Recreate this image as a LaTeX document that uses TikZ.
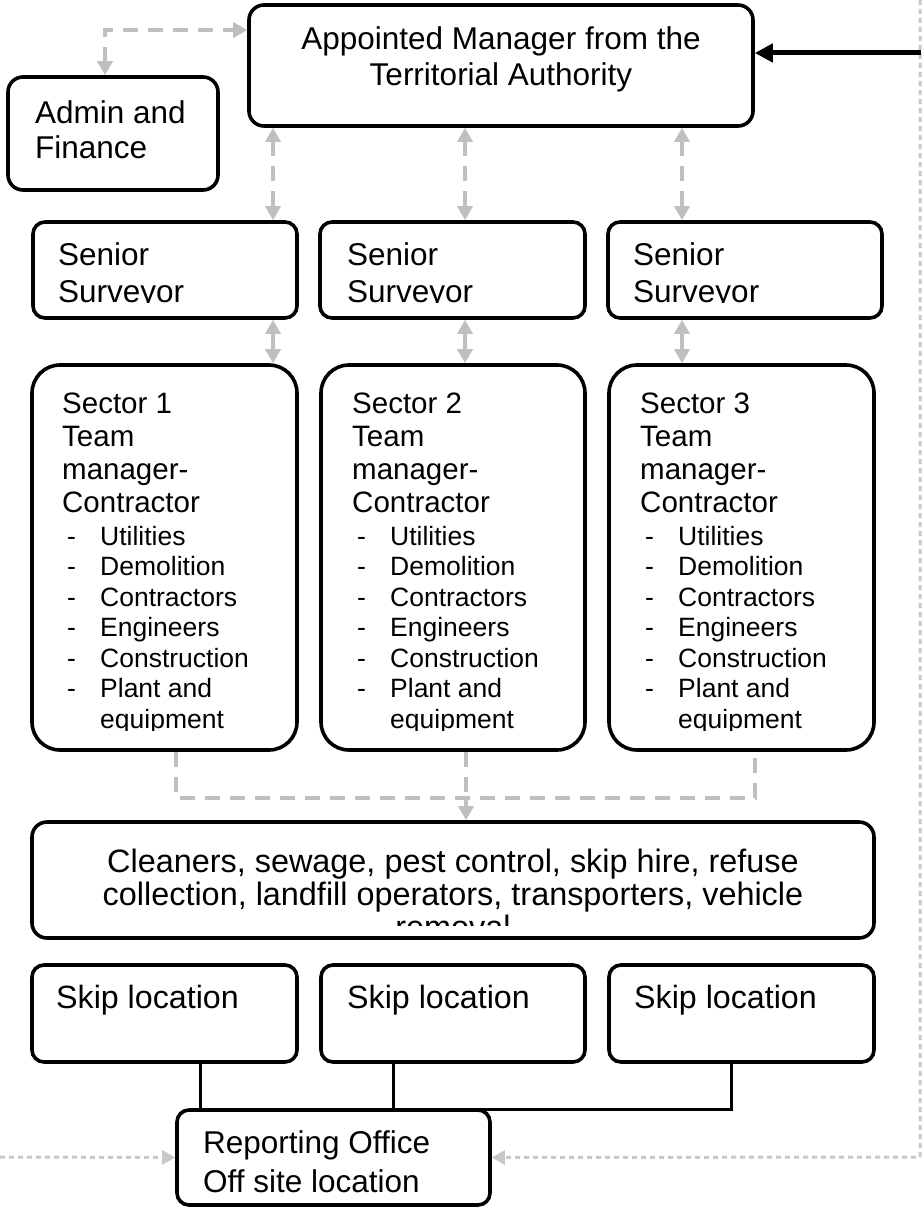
\documentclass[tikz,border=0pt]{standalone}
\usepackage{fontspec}
\setmainfont{Liberation Sans}
\usetikzlibrary{arrows.meta,calc}
\definecolor{lg}{HTML}{BFBFBF}
\definecolor{dg}{HTML}{C8C8C8}
\newcommand\mkbox[6]{\node[box=#6, minimum width={(#4-#2)*1pt}, minimum height={(#5-#3)*1pt}] (#1) at ({(#2+#4)/2},{(#3+#5)/2}) {};}
\begin{document}
\begin{tikzpicture}[x=1pt,y=-1pt,
  box/.style={draw=black,line width=3.6pt,rounded corners=#1,inner sep=0pt},
  box/.default=14pt,
  txt/.style={inner sep=0pt,anchor=base west,font=\fontsize{31.5}{36}\selectfont},
  ctxt/.style={txt,anchor=base},
  bigc/.style={inner sep=0pt,anchor=base,font=\fontsize{32.4}{36}\selectfont},
  skt/.style={inner sep=0pt,anchor=base west,font=\fontsize{32.2}{36}\selectfont},
  hd/.style={inner sep=0pt,anchor=base west,font=\fontsize{29.5}{33}\selectfont},
  li/.style={inner sep=0pt,anchor=base west,font=\fontsize{26.5}{30}\selectfont},
  gtip/.tip={Triangle[length=14pt,width=15pt]},
  gdash/.style={draw=lg,line width=4pt,dash pattern=on 15pt off 10pt},
  gsolid/.style={draw=lg,line width=4pt},
  dots/.style={draw=dg,line width=3pt,dash pattern=on 5pt off 4pt},
  blk/.style={draw=black,line width=3pt}]
\useasboundingbox (0,0) rectangle (921,1207);

% boxes
\mkbox{top}{249}{5}{753}{126}{15pt}
\mkbox{admin}{8}{77}{218}{190}{15pt}
\mkbox{sen1}{33}{222}{297}{318}{12pt}
\mkbox{sen2}{320}{222}{585}{318}{12pt}
\mkbox{sen3}{608}{222}{882}{318}{12pt}
\mkbox{sec1}{32}{365}{297}{750}{28pt}
\mkbox{sec2}{321}{365}{585}{750}{28pt}
\mkbox{sec3}{609}{365}{874}{750}{28pt}
\mkbox{cl}{32}{822}{874}{938}{15pt}
\mkbox{sk1}{32}{965}{297}{1062}{12pt}
\mkbox{sk2}{321}{965}{585}{1062}{12pt}
\mkbox{sk3}{609}{965}{874}{1062}{12pt}
\mkbox{rep}{177}{1110}{490}{1205}{12pt}

% texts
\node[ctxt] (topa) at (501,50) {Appointed Manager from the};
\node[ctxt] (topb) at (501,85) {Territorial Authority};
\node[txt] (adma) at (35,123) {Admin and};
\node[txt] (admb) at (35,158) {Finance};
\foreach \i/\x/\xa/\xb in {1/58/33/297,2/347/320/585,3/633/608/882}{
  \begin{scope}
  \clip (\xa,222) rectangle (\xb,302.5);
  \node[txt] (sen\i a) at (\x,265) {Senior};
  \node[txt] (sen\i b) at (\x,302) {Surveyor};
  \end{scope}
}
\foreach \i/\x/\xa/\xb in {1/62/32/297,2/352/321/585,3/640/609/874}{
  \begin{scope}
  \clip (\xa,367) rectangle (\xb,730);
  \node[hd] (sec\i h1) at (\x,413) {Sector \i};
  \node[hd] (sec\i h2) at (\x,446) {Team};
  \node[hd] (sec\i h3) at (\x,479) {manager-};
  \node[hd] (sec\i h4) at (\x,512) {Contractor};
  \foreach \t [count=\k from 0] in {Utilities,Demolition,Contractors,Engineers,Construction,Plant and}{
    \node[li] (sec\i d\k) at ({\x+5},{545+30.5*\k}) {-};
    \node[li] (sec\i t\k) at ({\x+38},{545+30.5*\k}) {\t};
  }
  \node[li] (sec\i t6) at ({\x+38},728) {equipment};
  \end{scope}
}
\begin{scope}
  \clip (34,824) rectangle (872,925);
  \node[bigc] (cla) at (453,872) {Cleaners, sewage, pest control, skip hire, refuse};
  \node[bigc] (clb) at (453,905) {collection, landfill operators, transporters, vehicle};
  \node[bigc] (clc) at (453,938) {removal};
\end{scope}
\node[skt] (sk1t) at (56,1008) {Skip location};
\node[skt] (sk2t) at (347,1008) {Skip location};
\node[skt] (sk3t) at (634,1008) {Skip location};
\node[txt] (repa) at (203,1153) {Reporting Office};
\node[txt] (repb) at (203,1192) {Off site location};

% coordinates
\coordinate (a1) at (273,0);
\coordinate (a2) at (465,0);
\coordinate (a3) at (682,0);
\coordinate (c1) at (176,798);
\coordinate (c2) at (466,798);
\coordinate (c3) at (755,798);
\coordinate (k1) at (200,1109);
\coordinate (k2) at (393,1109);
\coordinate (k3) at (731,1109);
\coordinate (lft) at (0,1157);
\coordinate (rtop) at (920,0);
\coordinate (rbot) at (920,1157);
\coordinate (bin) at (921,53);

% gray connectors
\draw[gdash,gtip-gtip] ([xshift=-8pt]admin.north) |- ([yshift=35.5pt]top.west);
\foreach \j in {1,2,3}{
  \draw[gdash,gtip-gtip] (top.south -| a\j) -- (sen\j.north -| a\j);
  \draw[gsolid,gtip-gtip] (sen\j.south -| a\j) -- (sec\j.north -| a\j);
}
\draw[gdash] (sec1.south -| c1) -- (c1) -- (c3) -- (sec3.south -| c3);
\draw[gdash] (sec2.south -| c2) -- (c2);
\draw[gdash,-gtip] (c2) -- (cl.north -| c2);

% skip lines
\draw[blk] (sk1.south -| k1) -- (k1);
\draw[blk] (sk2.south -| k2) -- (k2);
\draw[blk] (sk3.south -| k3) -- (k3) -- (k1);

% dotted
\draw[dots,-{Triangle[length=13pt,width=14pt]}] (lft) -- (rep.west);
\draw[dots,-{Triangle[length=13pt,width=14pt]}] (rtop) -- (rbot) -- (rep.east);

% black arrow
\draw[line width=5pt,-{Triangle[length=18pt,width=18pt]}] (bin) -- (bin -| top.east);
\end{tikzpicture}
\end{document}
